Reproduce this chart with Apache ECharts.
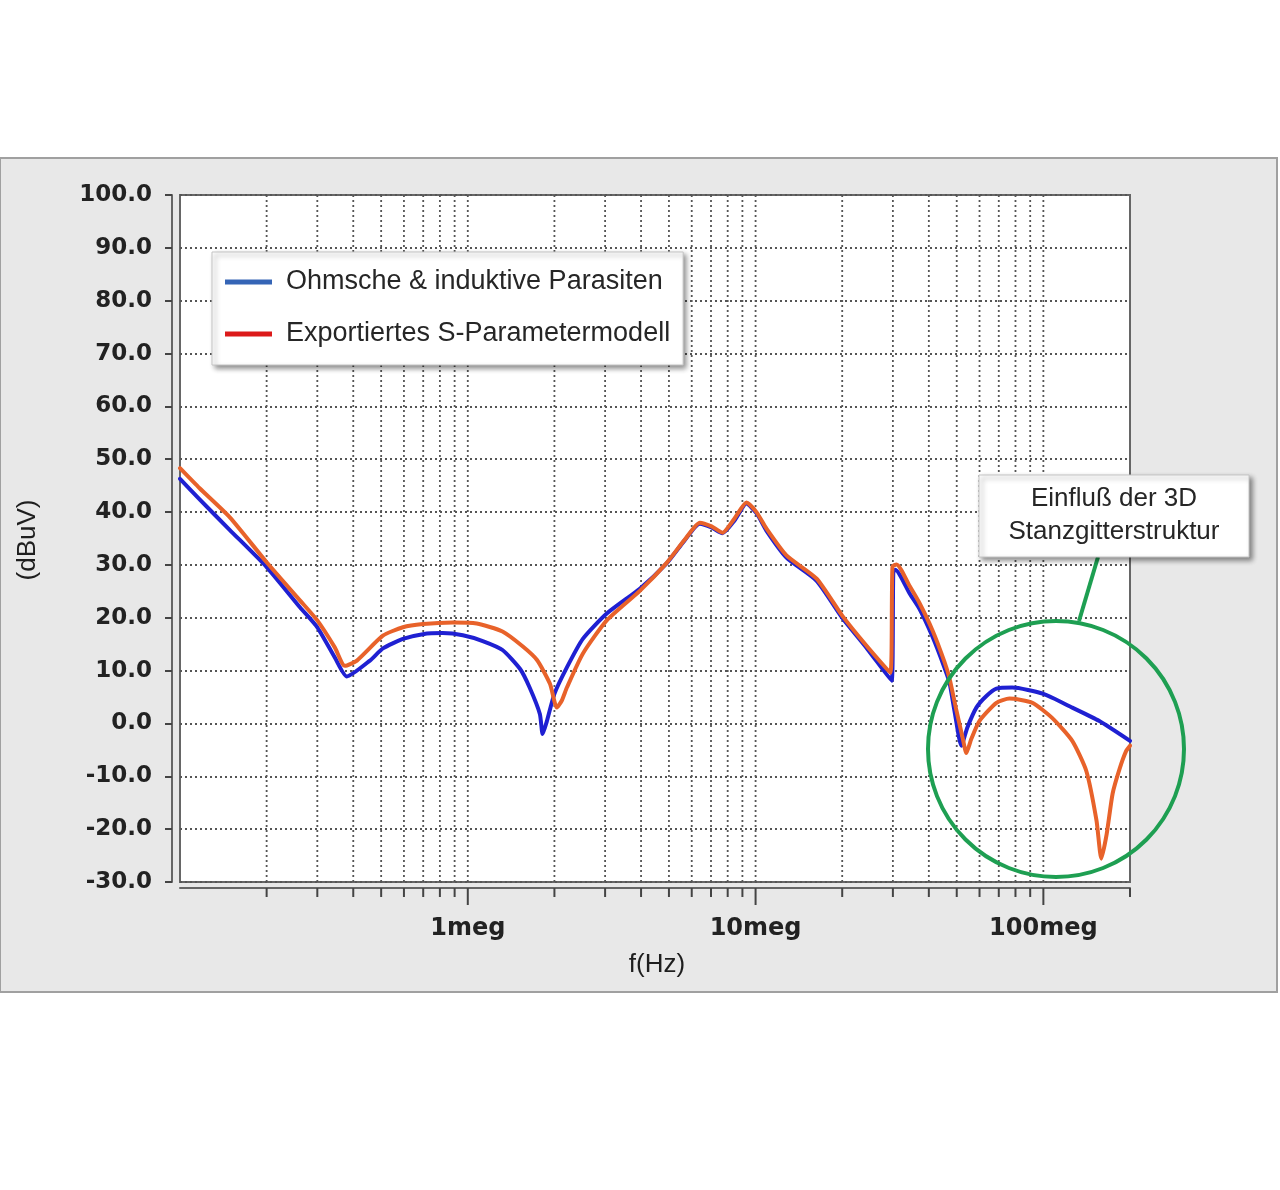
<!DOCTYPE html>
<html><head><meta charset="utf-8">
<script src="https://cdn.jsdelivr.net/npm/echarts@6/dist/echarts.min.js"></script>
<style>html,body{margin:0;padding:0;background:#fff}#c{width:1280px;height:1190px}</style>
</head><body><div id="c"></div>
<script>
// ---- data (frequency in Hz, level in dBuV) ----
const seriesNames = ['Ohmsche & induktive Parasiten', 'Exportiertes S-Parametermodell'];
const blueFreq = [1.0e5,1.17e5,1.49e5,2.0e5,2.61e5,3.0e5,3.45e5,3.8e5,4.57e5,5.07e5,5.95e5,6.98e5,8.18e5,9.61e5,1.127e6,1.32e6,1.52e6,1.64e6,1.78e6,1.82e6,1.88e6,2.0e6,2.21e6,2.51e6,3.04e6,3.96e6,4.91e6,5.66e6,6.4e6,7.03e6,7.67e6,8.45e6,9.3e6,1.01e7,1.09e7,1.28e7,1.63e7,2.0e7,2.43e7,2.97e7,3.01e7,3.06e7,3.43e7,3.71e7,4.12e7,4.53e7,4.72e7,4.91e7,5.19e7,5.44e7,5.85e7,6.34e7,6.87e7,7.8e7,1.0e8,1.26e8,1.56e8,2.0e8];
const blueDb   = [46.3,42.4,36.6,29.6,22.0,18.2,12.5,8.9,11.9,14.2,16.0,16.9,17.1,16.7,15.6,13.9,10.3,6.8,1.8,-2.0,0.3,5.6,10.6,16.0,20.8,25.5,30.3,34.6,37.8,37.1,36.0,38.4,41.6,39.7,36.5,31.4,27.0,20.0,14.3,8.1,28.6,29.1,24.6,21.7,16.4,10.6,7.7,2.4,-4.2,-0.8,3.0,5.2,6.6,6.8,5.6,3.0,0.5,-3.3];
const orangeFreq = [1.0e5,1.17e5,1.49e5,2.0e5,2.61e5,3.0e5,3.45e5,3.74e5,4.12e5,5.07e5,5.95e5,6.98e5,8.87e5,1.074e6,1.32e6,1.55e6,1.74e6,1.93e6,2.04e6,2.12e6,2.21e6,2.51e6,3.04e6,3.96e6,4.91e6,5.66e6,6.4e6,7.03e6,7.67e6,8.45e6,9.3e6,1.01e7,1.09e7,1.28e7,1.63e7,2.0e7,2.43e7,2.94e7,2.99e7,3.09e7,3.43e7,3.71e7,4.12e7,4.53e7,4.72e7,4.99e7,5.24e7,5.4e7,5.62e7,6.0e7,6.87e7,7.62e7,9.16e7,1.07e8,1.26e8,1.41e8,1.53e8,1.59e8,1.66e8,1.74e8,1.84e8,1.94e8,2.0e8];
const orangeDb   = [48.3,44.5,39.0,30.5,23.3,19.5,14.4,10.9,11.9,16.6,18.2,18.8,19.1,18.9,17.4,14.6,12.0,7.5,3.0,4.3,6.8,13.2,19.5,25.1,30.4,34.7,38.0,37.3,36.1,38.8,41.8,39.9,36.9,31.8,27.4,20.4,14.7,9.6,29.7,30.1,26.0,22.8,17.6,11.7,8.5,2.4,-2.7,-5.6,-2.9,0.5,3.9,4.7,3.9,1.1,-3.3,-9.0,-18.4,-25.6,-20.9,-13.3,-8.6,-5.2,-4.2];
const yMin = -30, yMax = 100, yStep = 10;
const xMin = 1e5, xMax = 2e8;
const xMajorLabels = { 6: '1meg', 7: '10meg', 8: '100meg' };
const annotationLines = ['Einfluß der 3D', 'Stanzgitterstruktur'];

// tick / grid positions of the log axis (1..9 per decade)
const tickData = [];
for (let n = 5; n <= 8; n++) {
  for (let k = 1; k <= 9; k++) {
    const f = k * Math.pow(10, n);
    if (f > xMin * 1.0001 && f <= xMax * 1.0001) tickData.push([f, k === 1 ? 1 : 0]);
  }
}
const zip = (a, b) => a.map((v, i) => [v, b[i]]);

const chart = echarts.init(document.getElementById('c'), null, { renderer: 'canvas' });
const tickFont = 'DejaVu Sans';
const textFont = 'Liberation Sans';
const gridDot = { color: '#555', width: 1.8, type: [2, 3] };

chart.setOption({
  animation: false,
  backgroundColor: '#ffffff',
  grid: { left: 180, top: 195, right: 150, bottom: 308, show: true, backgroundColor: '#ffffff', borderColor: '#666', borderWidth: 2 },
  xAxis: {
    type: 'log', logBase: 10, min: xMin, max: xMax, offset: 6,
    axisLine: { show: true, onZero: false, lineStyle: { color: '#666', width: 2 } },
    axisTick: { show: false },
    splitLine: { show: false },
    axisLabel: {
      margin: 29, fontFamily: tickFont, fontWeight: 'bold', fontSize: 24, color: '#222',
      formatter: v => { const l = Math.log10(v); const r = Math.round(l); return Math.abs(l - r) < 1e-6 && xMajorLabels[r] ? xMajorLabels[r] : ''; }
    }
  },
  yAxis: {
    type: 'value', min: yMin, max: yMax, interval: yStep, offset: 8,
    axisLine: { show: true, lineStyle: { color: '#666', width: 2 } },
    axisTick: { show: true, length: 7, lineStyle: { color: '#444', width: 2 } },
    axisLabel: { margin: 20, fontFamily: tickFont, fontWeight: 'bold', fontSize: 23, color: '#222', formatter: v => v.toFixed(1) },
    splitLine: { show: true, lineStyle: gridDot }
  },
  legend: {
    orient: 'vertical', left: 212, top: 252, padding: [15, 13, 16, 13],
    itemWidth: 47, itemHeight: 5, itemGap: 22, icon: 'rect', selectedMode: false,
    backgroundColor: '#ffffff', borderColor: '#c4c4c4', borderWidth: 1,
    shadowColor: 'rgba(0,0,0,0.45)', shadowBlur: 5, shadowOffsetX: 3, shadowOffsetY: 3,
    textStyle: { fontFamily: textFont, fontSize: 27, color: '#262626', lineHeight: 30, padding: [0, 0, 0, 9] },
    data: [
      { name: seriesNames[0], itemStyle: { color: '#3565b6' } },
      { name: seriesNames[1], itemStyle: { color: '#dc1a1a' } }
    ]
  },
  series: [
    {
      type: 'custom', name: 'grid', silent: true, clip: false, z: 1,
      data: tickData,
      renderItem: (params, api) => {
        const f = api.value(0), major = api.value(1);
        const pTop = api.coord([f, yMax]);
        const pBot = api.coord([f, yMin]);
        const x = pBot[0];
        const children = [];
        if (f < xMax * 0.999) children.push({ type: 'line', shape: { x1: x, y1: pTop[1], x2: x, y2: pBot[1] }, style: { stroke: gridDot.color, lineWidth: gridDot.width, lineDash: gridDot.type } });
        children.push({ type: 'line', shape: { x1: x, y1: pBot[1] + 6, x2: x, y2: pBot[1] + (major ? 23 : 15) }, style: { stroke: '#444', lineWidth: 2 } });
        return { type: 'group', children };
      }
    },
    {
      type: 'line', name: seriesNames[0], data: zip(blueFreq, blueDb), showSymbol: false, symbol: 'none', z: 3,
      smooth: 0.2,
      color: '#1f20d2', lineStyle: { color: '#1f20d2', width: 4, cap: 'round', join: 'round' }
    },
    {
      type: 'line', name: seriesNames[1], data: zip(orangeFreq, orangeDb), showSymbol: false, symbol: 'none', z: 4,
      smooth: 0.2,
      color: '#e8622a', lineStyle: { color: '#e8622a', width: 4, cap: 'round', join: 'round' }
    }
  ],
  graphic: [
    { type: 'rect', z: -100, silent: true, shape: { x: 0, y: 158, width: 1277, height: 834 }, style: { fill: '#e8e8e8', stroke: '#a0a0a0', lineWidth: 2 } },
    { type: 'text', z: 50, silent: true, x: 657, y: 965, style: { text: 'f(Hz)', fontFamily: textFont, fontSize: 26, fill: '#1e1e1e', align: 'center', verticalAlign: 'middle' } },
    { type: 'text', z: 50, silent: true, x: 28, y: 540, rotation: Math.PI / 2, style: { text: '(dBuV)', fontFamily: textFont, fontSize: 26, fill: '#1e1e1e', align: 'center', verticalAlign: 'middle' } },
    { type: 'circle', z: 100, silent: true, shape: { cx: 1056, cy: 749, r: 128 }, style: { fill: 'none', stroke: '#1e9f52', lineWidth: 4 } },
    { type: 'line', z: 100, silent: true, shape: { x1: 1098, y1: 557, x2: 1079, y2: 621 }, style: { stroke: '#1e9f52', lineWidth: 4 } },
    { type: 'rect', z: 101, silent: true, shape: { x: 979, y: 475, width: 270, height: 82 }, style: { fill: '#ffffff', stroke: '#c4c4c4', lineWidth: 1, shadowColor: 'rgba(0,0,0,0.45)', shadowBlur: 5, shadowOffsetX: 3, shadowOffsetY: 3 } },
    { type: 'text', z: 102, silent: true, x: 1114, y: 499, style: { text: annotationLines[0], fontFamily: textFont, fontSize: 26, fill: '#262626', align: 'center', verticalAlign: 'middle' } },
    { type: 'text', z: 102, silent: true, x: 1114, y: 532, style: { text: annotationLines[1], fontFamily: textFont, fontSize: 26, fill: '#262626', align: 'center', verticalAlign: 'middle' } }
  ]
});
</script></body></html>
